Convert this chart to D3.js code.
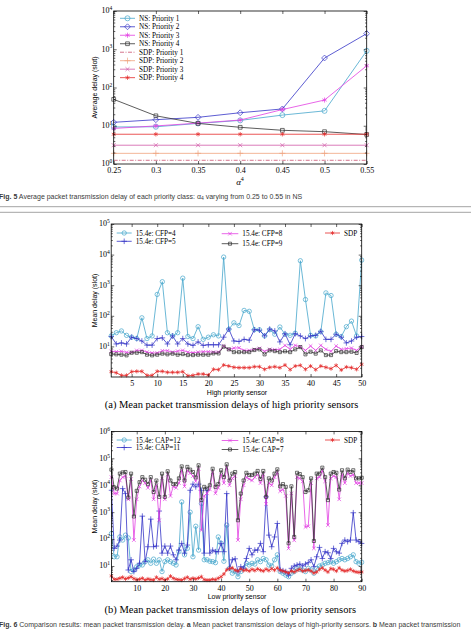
<!DOCTYPE html>
<html>
<head>
<meta charset="utf-8">
<script src="https://cdn.jsdelivr.net/npm/d3@7"></script>
<style>
  body { margin: 0; background: #fff; }
  svg { display: block; }
</style>
</head>
<body>
<div id="page"></div>
<script>
// ---- Fig. 5 : average delay vs alpha4 ----
const alphas = [0.25, 0.3, 0.35, 0.4, 0.45, 0.5, 0.55];
const nsP1 = [9.3, 9.4, 11.5, 13.8, 19, 24.5, 910];
const nsP2 = [12.3, 14.4, 16.6, 21.9, 27.5, 590, 2560];
const nsP3 = [8.5, 9.9, 11.7, 14.1, 26.5, 47, 370];
const nsP4 = [49, 18.2, 11.5, 9.1, 7.6, 7.0, 5.9];
const sdpP1 = [1.25, 1.25, 1.25, 1.25, 1.25, 1.25, 1.25];
const sdpP2 = [1.9, 1.9, 1.9, 1.9, 1.9, 1.9, 1.9];
const sdpP3 = [3.1, 3.1, 3.1, 3.1, 3.1, 3.1, 3.1];
const sdpP4 = [6.0, 6.0, 6.0, 6.0, 6.0, 6.0, 6.0];

// ---- Fig. 6a : high priority sensors 1..50 ----
const highSensors = d3.range(1, 51);
const cfp4 = [22, 28, 32, 23, 20, 18, 86, 18, 22, 500, 1300, 28, 22, 28, 1700, 21, 18, 44, 17, 20,
  24, 22, 8300, 36, 59, 48, 150, 140, 35, 35, 22, 35, 25, 43, 25, 23, 27, 6300, 340, 23,
  22, 30, 560, 460, 25, 21, 44, 67, 22, 6600];
const cfp5 = [21, 12, 13, 12, 20, 18, 15, 11, 11, 18, 19, 12, 22, 12, 18, 12, 10.8, 14, 10.8, 11.3,
  11.3, 11.3, 20, 37, 15, 14.5, 17, 16, 35, 34, 22, 37, 32, 14, 26, 11.3, 26, 22, 18, 22,
  23, 31, 17, 17, 25, 20, 13, 15, 20, 21];
const cfp8 = [6.9, 6.7, 6.9, 6.4, 6.4, 7.4, 7.4, 6.5, 6.1, 6.1, 7.2, 7.2, 6.5, 7.0, 7.4, 6.5, 6.2, 6.5, 6.7, 6.7,
  6.5, 6.5, 10.3, 8.0, 8.8, 9.0, 7.4, 7.4, 8.0, 8.6, 6.9, 8.0, 7.8, 8.0, 10.8, 8.0, 10.8, 9.8, 7.4, 10.3,
  7.4, 10.8, 8.0, 6.9, 10.3, 8.0, 8.4, 8.8, 7.4, 9.8];
const cfp9 = [5.6, 5.5, 5.35, 5.1, 6.2, 6.2, 6.5, 5.35, 5.1, 5.35, 5.8, 5.5, 5.8, 5.35, 5.6, 5.2, 5.2, 5.35, 5.35, 5.35,
  5.9, 5.9, 9.8, 8.0, 6.5, 6.5, 6.5, 6.5, 7.6, 8.0, 5.5, 7.4, 7.0, 6.5, 6.9, 6.5, 8.0, 9.5, 5.5, 6.7,
  5.8, 7.4, 5.2, 5.2, 7.0, 6.5, 6.5, 6.7, 6.1, 9.5];
const sdpHigh = [1.49, 1.38, 1.13, 1.13, 1.49, 1.53, 1.53, 1.13, 1.13, 1.53, 1.53, 1.42, 1.42, 1.42, 1.49, 1.10, 1.13, 1.25, 1.25, 1.16,
  1.78, 1.74, 2.46, 2.28, 2.07, 2.02, 2.02, 2.02, 2.17, 2.17, 1.78, 2.07, 2.17, 2.02, 2.46, 1.74, 2.28, 2.4, 1.78, 2.28,
  1.74, 2.28, 2.07, 1.87, 2.4, 1.70, 2.12, 2.02, 1.78, 2.59];

// ---- Fig. 6b : low priority sensors 1..90 ----
const lowSensors = d3.range(1, 91);
const cap12 = [160, 22, 22, 120, 92, 140, 110, 6.2, 7.1, 9.4, 10.9, 10.9, 14.5, 17, 12.6, 18, 12.6, 17, 6.2, 14.5,
  17, 14.5, 12.6, 10.9, 34, 2400, 26, 45, 1000, 22, 300, 39, 2100, 17, 17, 15, 14.5, 13.3, 120, 70,
  15, 330, 8.2, 5.4, 6.2, 4.0, 6.2, 8.2, 12.6, 10.9, 12.6, 11.8, 17, 14.5, 19, 17, 10.9, 10, 17, 26,
  6.2, 5.4, 4.6, 4.0, 5.4, 6.2, 8.2, 7.5, 7.1, 6.2, 8.2, 7.1, 5.4, 8.2, 10, 10.9, 12.6, 13.3, 14.5, 12.6,
  14.5, 17, 19, 17, 19, 22, 26, 14.5, 12.6, 13.8];
const cap11 = [6500, 45, 55, 92, 7500, 4900, 7.1, 17, 6.2, 8.2, 12.6, 710, 14.5, 52, 550, 52, 55, 1100, 30, 55,
  30, 55, 26, 17, 39, 69, 30, 60, 6500, 11000, 8700, 11000, 6500, 30, 6500, 30, 39, 34, 34, 69,
  34, 4900, 8.2, 17, 18.5, 6.2, 9.4, 8.2, 19, 45, 26, 39, 39, 69, 34, 3700, 140, 52, 120, 380,
  7.1, 6.7, 6.2, 4.6, 8.2, 10, 10.9, 11.8, 10, 11.8, 13.3, 17, 9.4, 22, 49, 19, 34, 31, 19, 45,
  34, 30, 69, 92, 80, 92, 950, 92, 80, 69];
const cap8 = [20000, 4900, 4900, 15000, 20000, 22000, 3000, 17000, 92, 3000, 9000, 15000, 12000, 8000, 15000, 3000, 10000, 500, 18000, 3000,
  25000, 4000, 9000, 8000, 12000, 35000, 9000, 35000, 28000, 22000, 14000, 40000, 215, 4000, 5000, 7000, 30000, 5000, 8000, 25000,
  12000, 45000, 10000, 18000, 22000, 92, 3000, 10000, 20000, 17000, 15000, 20000, 25000, 12000, 25000, 2000, 12000, 10000, 20000, 30000,
  6000, 7000, 4000, 45, 5000, 90, 20000, 18000, 14000, 280, 300, 12000, 45, 18000, 20000, 35000, 14000, 330, 18000, 22000,
  20000, 3000, 25000, 12000, 28000, 22000, 25000, 12000, 12000, 12000];
const cap7 = [38000, 8300, 7500, 27000, 30000, 31000, 3500, 27000, 690, 6200, 13000, 20000, 16000, 11000, 20000, 5600, 15000, 3700, 27000, 3700,
  33000, 15000, 11000, 11000, 18000, 50000, 15000, 48000, 38000, 31000, 19500, 55000, 2800, 8700, 7500, 10000, 41000, 8700, 11000, 36000,
  20000, 60000, 15000, 27000, 31000, 500, 4900, 15000, 29000, 24000, 24000, 27000, 34000, 17000, 34000, 3700, 18000, 15000, 27000, 39000,
  9100, 11000, 8700, 70, 9100, 120, 29000, 26000, 20000, 5600, 6500, 18000, 85, 27000, 27000, 45000, 20000, 2800, 27000, 31000,
  29000, 6900, 36000, 18000, 38000, 31000, 36000, 18000, 18000, 19000];
const sdpLow = [4.3, 3.2, 3.2, 3.5, 3.8, 3.3, 3.6, 4.0, 3.4, 3.1, 3.2, 3.5, 3.0, 3.3, 3.1, 3.0, 3.8, 3.2, 3.4, 3.0,
  3.3, 4.2, 3.5, 3.2, 3.1, 3.0, 3.4, 3.8, 3.2, 3.5, 3.3, 3.6, 4.0, 3.1, 3.0, 3.0, 3.2, 3.1, 3.5, 4.0,
  5.0, 7.2, 8.0, 8.5, 7.0, 6.5, 7.8, 6.8, 7.2, 6.5, 7.5, 6.8, 7.8, 7.0, 6.5, 7.6, 6.8, 8.0, 7.0, 8.5,
  7.0, 6.5, 6.0, 5.5, 6.5, 6.0, 6.8, 7.5, 6.5, 6.8, 7.2, 6.5, 5.5, 6.0, 7.5, 8.5, 7.0, 6.0, 8.0, 7.5,
  6.5, 8.5, 7.0, 6.5, 6.8, 7.5, 6.5, 6.0, 5.8, 6.0];

const COLORS = {
  cyan: '#45a6cb',
  blue: '#3434c6',
  magenta: '#e23fe2',
  black: '#333333',
  red: '#e42a2a',
  sdp1: '#c9506f',
  sdp2: '#efa27c',
  sdp3: '#d15aa8'
};
const SERIF = '"Liberation Serif", "Times New Roman", serif';
const SANS = '"Liberation Sans", Arial, sans-serif';

const svg = d3.select('#page')
  .append('svg')
  .attr('width', 471)
  .attr('height', 631)
  .style('background', '#fff');

function supLabel(sel, base, exp) {
  sel.append('tspan').text(base);
  sel.append('tspan').attr('dy', -3.2).attr('font-size', '5.5px').text(exp);
}

/**
 * Draw one MATLAB-style log panel with inward ticks on all sides
 */
function drawPanel(cfg) {
  const b = cfg.box;
  const x = d3.scaleLinear().domain(cfg.xDomain).range([b.left, b.right]);
  const y = d3.scaleLog().domain(cfg.yDomain).range([b.bottom, b.top]);
  const g = svg.append('g');

  const clipId = `clip-${cfg.id}`;
  g.append('clipPath').attr('id', clipId)
    .append('rect')
    .attr('x', b.left - 3).attr('y', b.top - 3)
    .attr('width', b.right - b.left + 6).attr('height', b.bottom - b.top + 6);

  const plot = g.append('g').attr('clip-path', `url(#${clipId})`);

  cfg.series.forEach(s => {
    const pts = cfg.xs.map((xv, i) => [xv, s.values[i]]);
    plot.append('path')
      .attr('d', d3.line().x(d => x(d[0])).y(d => y(d[1]))(pts))
      .attr('fill', 'none')
      .attr('stroke', s.color)
      .attr('stroke-width', 0.8)
      .attr('stroke-dasharray', s.dash || null);
    if (s.symbol) {
      plot.selectAll(null)
        .data(pts)
        .join('path')
        .attr('transform', d => `translate(${x(d[0])},${y(d[1])})`)
        .attr('d', d3.symbol().type(s.symbol).size(s.size))
        .attr('fill', 'none')
        .attr('stroke', s.color)
        .attr('stroke-width', 0.7);
    }
  });

  // ticks
  const minors = [];
  const [lo, hi] = cfg.yDomain;
  for (let e = Math.floor(Math.log10(lo)); e < Math.ceil(Math.log10(hi)); e++) {
    for (let k = 2; k <= 9; k++) {
      const v = k * Math.pow(10, e);
      if (v > lo && v < hi) minors.push(v);
    }
  }
  const clean = a => a.select('.domain').remove();

  g.append('g').attr('transform', `translate(0,${b.bottom})`)
    .call(d3.axisBottom(x).tickValues(cfg.xTicks).tickSizeInner(-3).tickSizeOuter(0)
      .tickPadding(3.5).tickFormat(cfg.xFormat))
    .call(clean)
    .call(a => a.selectAll('text').attr('font-family', SERIF).attr('font-size', '8px').attr('fill', '#000'));
  g.append('g').attr('transform', `translate(0,${b.top})`)
    .call(d3.axisTop(x).tickValues(cfg.xTicks).tickSizeInner(-3).tickSizeOuter(0).tickFormat(''))
    .call(clean);

  [['left', d3.axisLeft], ['right', d3.axisRight]].forEach(([side, ax]) => {
    const off = side === 'left' ? b.left : b.right;
    g.append('g').attr('transform', `translate(${off},0)`)
      .call(ax(y).tickValues(cfg.yDecades).tickSizeInner(-3).tickSizeOuter(0).tickFormat(''))
      .call(clean);
    g.append('g').attr('transform', `translate(${off},0)`)
      .call(ax(y).tickValues(minors).tickSizeInner(-1.6).tickSizeOuter(0).tickFormat(''))
      .call(clean);
  });
  g.selectAll('.tick line').attr('stroke', '#000').attr('stroke-width', 0.6);

  g.selectAll(null)
    .data(cfg.yLabels)
    .join('text')
    .attr('x', b.left - 1.5)
    .attr('y', d => y(d) + 2.4)
    .attr('text-anchor', 'end')
    .attr('font-family', SERIF)
    .attr('font-size', '8px')
    .each(function (d) {
      supLabel(d3.select(this), '10', String(Math.round(Math.log10(d))));
    });

  g.append('rect')
    .attr('x', b.left).attr('y', b.top)
    .attr('width', b.right - b.left).attr('height', b.bottom - b.top)
    .attr('fill', 'none').attr('stroke', '#000').attr('stroke-width', 0.8);

  // y title
  g.append('text')
    .attr('transform', `translate(96.5,${(b.top + b.bottom) / 2}) rotate(-90)`)
    .attr('text-anchor', 'middle')
    .attr('font-family', SANS)
    .attr('font-size', '7px')
    .text(cfg.yTitle);

  // legend
  cfg.legend.forEach(l => {
    const s = l.series;
    g.append('line')
      .attr('x1', l.x0).attr('x2', l.x1).attr('y1', l.y).attr('y2', l.y)
      .attr('stroke', s.color).attr('stroke-width', 0.8)
      .attr('stroke-dasharray', s.dash || null);
    if (s.symbol) {
      g.append('path')
        .attr('transform', `translate(${(l.x0 + l.x1) / 2},${l.y})`)
        .attr('d', d3.symbol().type(s.symbol).size(s.size))
        .attr('fill', 'none').attr('stroke', s.color).attr('stroke-width', 0.7);
    }
    g.append('text')
      .attr('x', l.x1 + 4).attr('y', l.y + 2.5)
      .attr('font-family', SERIF).attr('font-size', '7.2px')
      .text(s.name);
  });
  return { x, y };
}

// ---------------- Fig. 5 ----------------
const fig5Series = [
  { name: 'NS: Priority 1', values: nsP1, color: COLORS.cyan, symbol: d3.symbolCircle, size: 20 },
  { name: 'NS: Priority 2', values: nsP2, color: COLORS.blue, symbol: d3.symbolDiamond2, size: 22 },
  { name: 'NS: Priority 3', values: nsP3, color: COLORS.magenta, symbol: d3.symbolAsterisk, size: 18 },
  { name: 'NS: Priority 4', values: nsP4, color: COLORS.black, symbol: d3.symbolSquare2, size: 18 },
  { name: 'SDP: Priority 1', values: sdpP1, color: COLORS.sdp1, dash: '4,1.5,1,1.5' },
  { name: 'SDP: Priority 2', values: sdpP2, color: COLORS.sdp2, symbol: d3.symbolPlus, size: 14 },
  { name: 'SDP: Priority 3', values: sdpP3, color: COLORS.sdp3, symbol: d3.symbolTimes, size: 12 },
  { name: 'SDP: Priority 4', values: sdpP4, color: COLORS.red, symbol: d3.symbolAsterisk, size: 14 }
];
drawPanel({
  id: 'f5',
  box: { left: 113.7, right: 366.7, top: 11, bottom: 164 },
  xDomain: [0.25, 0.55],
  yDomain: [1, 1e4],
  xs: alphas,
  xTicks: alphas,
  xFormat: d => String(d),
  yDecades: [1, 10, 100, 1000, 10000],
  yLabels: [1, 10, 100, 1000, 10000],
  yTitle: 'Average delay (slot)',
  series: fig5Series,
  legend: fig5Series.map((s, i) => ({ series: s, x0: 120, x1: 135, y: 18.3 + i * 8.48 }))
});

svg.append('text')
  .attr('x', 240).attr('y', 184.5)
  .attr('text-anchor', 'middle')
  .attr('font-family', SERIF).attr('font-size', '9px')
  .call(t => {
    t.append('tspan').attr('font-style', 'italic').text('α');
    t.append('tspan').attr('dy', -3.5).attr('font-size', '6px').text('4');
  });

svg.append('text')
  .attr('x', -1).attr('y', 198.5)
  .attr('font-family', SANS).attr('font-size', '7px').attr('fill', '#3a3a3a')
  .call(t => {
    t.append('tspan').attr('font-weight', 'bold').text('Fig. 5');
    t.append('tspan').text(' Average packet transmission delay of each priority class: α');
    t.append('tspan').attr('dy', 1.4).attr('font-size', '5px').text('4');
    t.append('tspan').attr('dy', -1.4).text(' varying from 0.25 to 0.55 in NS');
  });

[206.7, 212.3].forEach(yy => {
  svg.append('line')
    .attr('x1', 0).attr('x2', 471).attr('y1', yy).attr('y2', yy)
    .attr('stroke', '#9a9a9a').attr('stroke-width', 0.9);
});

// ---------------- Fig. 6a ----------------
const highSeries = [
  { name: '15.4e: CFP=4', values: cfp4, color: COLORS.cyan, symbol: d3.symbolCircle, size: 15 },
  { name: '15.4e: CFP=5', values: cfp5, color: COLORS.blue, symbol: d3.symbolPlus, size: 12 },
  { name: '15.4e: CFP=8', values: cfp8, color: COLORS.magenta, symbol: d3.symbolTimes, size: 10 },
  { name: '15.4e: CFP=9', values: cfp9, color: COLORS.black, symbol: d3.symbolSquare2, size: 12 },
  { name: 'SDP', values: sdpHigh, color: COLORS.red, symbol: d3.symbolAsterisk, size: 12 }
];
drawPanel({
  id: 'f6a',
  box: { left: 111.2, right: 361.7, top: 224, bottom: 377 },
  xDomain: [1, 50],
  yDomain: [1, 1e5],
  xs: highSensors,
  xTicks: [5, 10, 15, 20, 25, 30, 35, 40, 45, 50],
  xFormat: d => String(d),
  yDecades: [10, 100, 1000, 10000, 100000],
  yLabels: [10, 100, 1000, 10000, 100000],
  yTitle: 'Mean delay (slot)',
  series: highSeries,
  legend: [
    { series: highSeries[0], x0: 116.7, x1: 131.7, y: 233 },
    { series: highSeries[1], x0: 116.7, x1: 131.7, y: 241.3 },
    { series: highSeries[2], x0: 221.7, x1: 238.3, y: 233.7 },
    { series: highSeries[3], x0: 221.7, x1: 238.3, y: 243.7 },
    { series: highSeries[4], x0: 325, x1: 340, y: 233 }
  ]
});
svg.append('text')
  .attr('x', 237).attr('y', 394.5).attr('text-anchor', 'middle')
  .attr('font-family', SANS).attr('font-size', '7px')
  .text('High priority sensor');
svg.append('text')
  .attr('x', 231.6).attr('y', 407.8).attr('text-anchor', 'middle')
  .attr('font-family', SERIF).attr('font-size', '10.5px')
  .text('(a) Mean packet transmission delays of high priority sensors');

// ---------------- Fig. 6b ----------------
const lowSeries = [
  { name: '15.4e: CAP=12', values: cap12, color: COLORS.cyan, symbol: d3.symbolCircle, size: 15 },
  { name: '15.4e: CAP=11', values: cap11, color: COLORS.blue, symbol: d3.symbolPlus, size: 12 },
  { name: '15.4e: CAP=8', values: cap8, color: COLORS.magenta, symbol: d3.symbolTimes, size: 10 },
  { name: '15.4e: CAP=7', values: cap7, color: COLORS.black, symbol: d3.symbolSquare2, size: 12 },
  { name: 'SDP', values: sdpLow, color: COLORS.red, symbol: d3.symbolAsterisk, size: 12 }
];
drawPanel({
  id: 'f6b',
  box: { left: 111.4, right: 361.7, top: 431.4, bottom: 581.7 },
  xDomain: [1, 90],
  yDomain: [2.61, 1e6],
  xs: lowSensors,
  xTicks: [10, 20, 30, 40, 50, 60, 70, 80, 90],
  xFormat: d => String(d),
  yDecades: [10, 100, 1000, 10000, 100000, 1000000],
  yLabels: [10, 100, 1000, 10000, 100000, 1000000],
  yTitle: 'Mean delay (slot)',
  series: lowSeries,
  legend: [
    { series: lowSeries[0], x0: 116.7, x1: 131.7, y: 440 },
    { series: lowSeries[1], x0: 116.7, x1: 131.7, y: 447.5 },
    { series: lowSeries[2], x0: 221.7, x1: 238.3, y: 440.5 },
    { series: lowSeries[3], x0: 221.7, x1: 238.3, y: 449.5 },
    { series: lowSeries[4], x0: 325, x1: 340, y: 440 }
  ]
});
svg.append('text')
  .attr('x', 237).attr('y', 598.5).attr('text-anchor', 'middle')
  .attr('font-family', SANS).attr('font-size', '7px')
  .text('Low priority sensor');
svg.append('text')
  .attr('x', 230.3).attr('y', 612.8).attr('text-anchor', 'middle')
  .attr('font-family', SERIF).attr('font-size', '10.5px')
  .text('(b) Mean packet transmission delays of low priority sensors');

svg.append('text')
  .attr('x', -1).attr('y', 626.5)
  .attr('font-family', SANS).attr('font-size', '7px').attr('fill', '#3a3a3a')
  .call(t => {
    t.append('tspan').attr('font-weight', 'bold').text('Fig. 6');
    t.append('tspan').text(' Comparison results: mean packet transmission delay. ');
    t.append('tspan').attr('font-weight', 'bold').text('a');
    t.append('tspan').text(' Mean packet transmission delays of high-priority sensors. ');
    t.append('tspan').attr('font-weight', 'bold').text('b');
    t.append('tspan').text(' Mean packet transmission');
  });
</script>
</body>
</html>
